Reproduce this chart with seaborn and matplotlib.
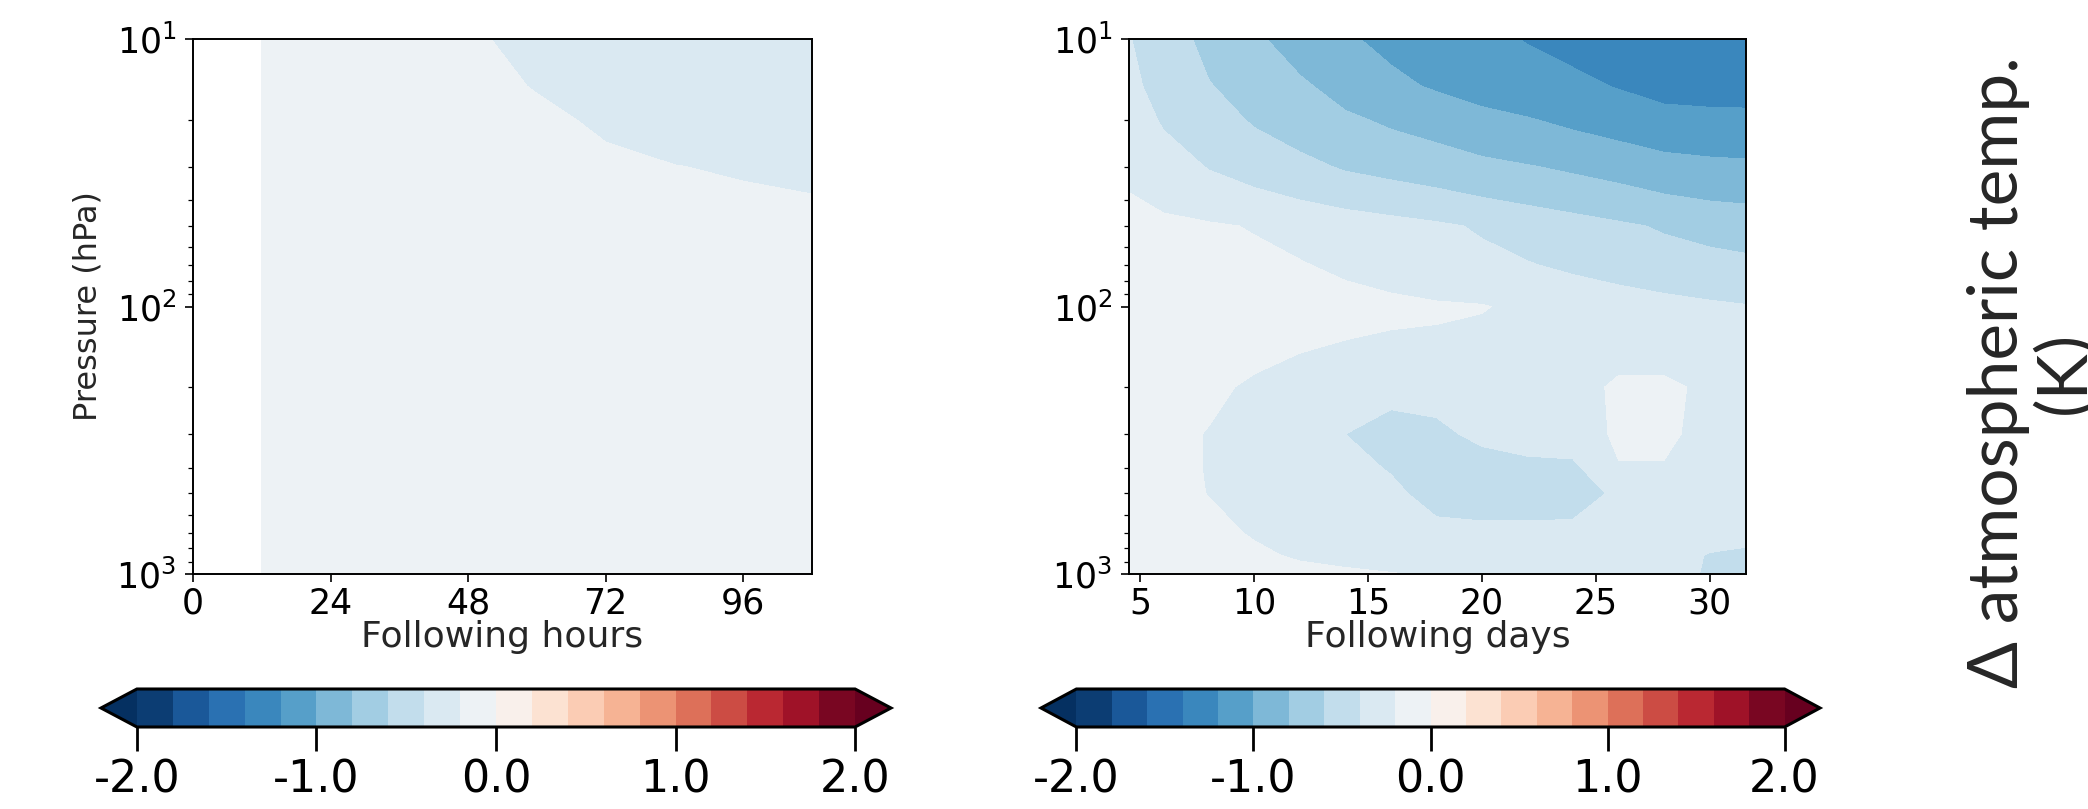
import numpy as np
import matplotlib
matplotlib.use("Agg")
import matplotlib.pyplot as plt
import seaborn as sns

# pressure levels shared by both panels (hPa)
pressure = [10, 15, 20, 30, 50, 70, 100, 150, 200, 300, 400, 500, 700, 850, 1000]

# left panel: following hours (no data before hour 12)
hours = [12, 24, 36, 48, 60, 72, 84, 96, 108]
dT_hours = [
    [-0.12, -0.14, -0.16, -0.19, -0.22, -0.25, -0.27, -0.29, -0.30],
    [-0.11, -0.13, -0.15, -0.17, -0.205, -0.23, -0.26, -0.28, -0.29],
    [-0.10, -0.12, -0.14, -0.16, -0.18, -0.215, -0.24, -0.26, -0.27],
    [-0.09, -0.10, -0.12, -0.14, -0.16, -0.18, -0.198, -0.21, -0.22],
    [-0.08, -0.09, -0.10, -0.12, -0.13, -0.14, -0.15, -0.16, -0.17],
    [-0.07, -0.08, -0.09, -0.10, -0.11, -0.12, -0.13, -0.14, -0.15],
    [-0.06, -0.07, -0.08, -0.09, -0.10, -0.11, -0.12, -0.13, -0.13],
    [-0.05, -0.06, -0.07, -0.08, -0.09, -0.10, -0.10, -0.11, -0.12],
    [-0.05, -0.05, -0.06, -0.07, -0.08, -0.09, -0.09, -0.10, -0.11],
    [-0.04, -0.05, -0.05, -0.06, -0.07, -0.08, -0.08, -0.09, -0.10],
    [-0.04, -0.04, -0.05, -0.06, -0.06, -0.07, -0.08, -0.08, -0.09],
    [-0.03, -0.04, -0.05, -0.05, -0.06, -0.07, -0.07, -0.08, -0.09],
    [-0.03, -0.03, -0.04, -0.05, -0.05, -0.06, -0.07, -0.07, -0.08],
    [-0.02, -0.03, -0.04, -0.04, -0.05, -0.06, -0.06, -0.07, -0.08],
    [-0.02, -0.03, -0.03, -0.04, -0.05, -0.05, -0.06, -0.07, -0.07],
]

# right panel: following days
days = [4.5, 6, 8, 10, 12, 14, 16, 18, 20, 22, 24, 26, 28, 30, 31.6]
dT_days = [
    [-0.39, -0.51, -0.65, -0.77, -0.88, -0.98, -1.04, -1.10, -1.15, -1.21, -1.25, -1.29, -1.32, -1.33, -1.32],
    [-0.36, -0.46, -0.59, -0.68, -0.77, -0.87, -0.96, -1.02, -1.07, -1.11, -1.16, -1.21, -1.25, -1.26, -1.25],
    [-0.30, -0.42, -0.52, -0.62, -0.69, -0.77, -0.83, -0.88, -0.95, -0.99, -1.04, -1.09, -1.15, -1.16, -1.17],
    [-0.23, -0.31, -0.41, -0.48, -0.55, -0.62, -0.66, -0.70, -0.75, -0.79, -0.83, -0.87, -0.92, -0.95, -0.96],
    [-0.15, -0.16, -0.18, -0.21, -0.25, -0.29, -0.33, -0.37, -0.42, -0.47, -0.52, -0.57, -0.62, -0.66, -0.68],
    [-0.12, -0.13, -0.14, -0.16, -0.19, -0.23, -0.27, -0.31, -0.35, -0.39, -0.43, -0.47, -0.51, -0.54, -0.56],
    [-0.10, -0.10, -0.10, -0.11, -0.12, -0.14, -0.16, -0.18, -0.19, -0.24, -0.28, -0.31, -0.34, -0.37, -0.39],
    [-0.10, -0.11, -0.13, -0.16, -0.201, -0.23, -0.25, -0.24, -0.27, -0.28, -0.29, -0.25, -0.25, -0.33, -0.34],
    [-0.10, -0.12, -0.16, -0.23, -0.27, -0.34, -0.37, -0.37, -0.33, -0.30, -0.27, -0.17, -0.17, -0.23, -0.27],
    [-0.10, -0.14, -0.21, -0.26, -0.30, -0.40, -0.44, -0.42, -0.38, -0.35, -0.30, -0.17, -0.17, -0.25, -0.30],
    [-0.10, -0.14, -0.21, -0.27, -0.31, -0.36, -0.41, -0.45, -0.44, -0.43, -0.44, -0.21, -0.21, -0.25, -0.28],
    [-0.09, -0.13, -0.205, -0.25, -0.28, -0.31, -0.37, -0.45, -0.46, -0.46, -0.45, -0.38, -0.25, -0.27, -0.28],
    [-0.08, -0.10, -0.14, -0.22, -0.27, -0.30, -0.33, -0.36, -0.37, -0.37, -0.37, -0.34, -0.30, -0.33, -0.35],
    [-0.06, -0.08, -0.11, -0.16, -0.23, -0.27, -0.30, -0.32, -0.33, -0.33, -0.33, -0.32, -0.33, -0.41, -0.43],
    [-0.04, -0.06, -0.08, -0.10, -0.13, -0.16, -0.19, -0.22, -0.25, -0.27, -0.28, -0.30, -0.33, -0.42, -0.44],
]

levels = np.round(np.arange(-2.0, 2.01, 0.2), 2)
cbar_ticks = [-2.0, -1.0, 0.0, 1.0, 2.0]

sns.set_theme(style="ticks")
plt.rcParams["font.family"] = ["DejaVu Sans"]
plt.rcParams["axes.edgecolor"] = "black"
plt.rcParams["xtick.color"] = "black"
plt.rcParams["ytick.color"] = "black"
cmap = sns.color_palette("RdBu_r", as_cmap=True)

W, H = 2088, 809
fig = plt.figure(figsize=(W / 100, H / 100), dpi=100)


def px_axes(x0, y0, x1, y1):
    # pixel box (top-left origin) -> figure axes
    return fig.add_axes([x0 / W, 1 - y1 / H, (x1 - x0) / W, (y1 - y0) / H])


panels = [
    (hours, dT_hours, (0, 108), [0, 24, 48, 72, 96], "Following hours",
     (193, 39, 812, 574), (101, 689, 891, 727)),
    (days, dT_days, (4.5, 31.6), [5, 10, 15, 20, 25, 30], "Following days",
     (1129, 39, 1746, 574), (1041, 689, 1820, 727)),
]

for i, (xs, z, xlim, xticks, xlabel, box, cbox) in enumerate(panels):
    ax = px_axes(*box)
    cf = ax.contourf(xs, pressure, np.array(z), levels=levels, cmap=cmap,
                     extend="both")
    ax.set_yscale("log")
    ax.set_ylim(1000, 10)
    ax.set_xlim(*xlim)
    ax.set_xticks(xticks)
    ax.set_xlabel(xlabel, fontsize=26, labelpad=0)
    if i == 0:
        ax.set_ylabel("Pressure (hPa)", fontsize=23, labelpad=9)
    ax.tick_params(axis="x", which="major", labelsize=25, length=6,
                   width=1.2, pad=3)
    ax.tick_params(axis="y", which="major", labelsize=25, length=6,
                   width=1.2, pad=6)
    ax.tick_params(axis="y", which="minor", length=3.5, width=0.9)
    for sp in ax.spines.values():
        sp.set_linewidth(1.4)
        sp.set_color("black")

    cax = px_axes(*cbox)
    cb = fig.colorbar(cf, cax=cax, orientation="horizontal", ticks=cbar_ticks)
    cb.set_ticklabels([f"{t:.1f}" for t in cbar_ticks])
    cb.outline.set_linewidth(2.2)
    cb.outline.set_edgecolor("black")
    cax.tick_params(labelsize=32, length=17, width=2, pad=6, color="black")
    cb.minorticks_off()

fig.text(2032 / W, 1 - 372 / H, "\u0394 atmospheric temp.\n(K)",
         rotation=90, ha="center", va="center", multialignment="center",
         fontsize=50, linespacing=1.05, family=["Lato", "DejaVu Sans"])

fig.savefig("out.png", dpi=100, facecolor="white")
